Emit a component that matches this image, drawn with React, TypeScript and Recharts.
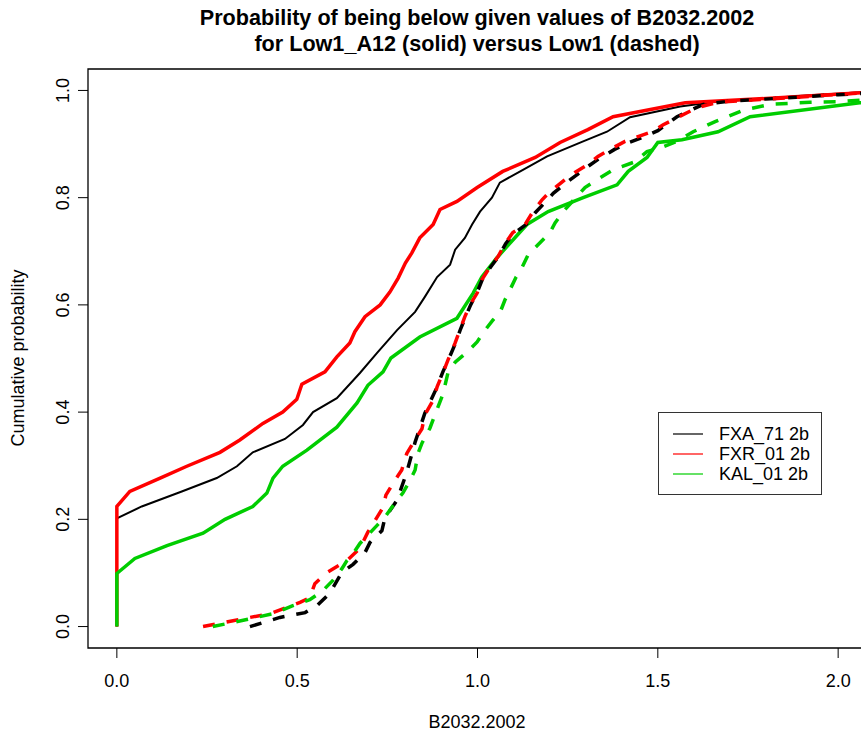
import React from "react";
import { LineChart, Line, XAxis, YAxis, ReferenceArea } from "recharts";

type P = { x: number; y: number };

const xTicks = [0, 0.5, 1.0, 1.5, 2.0];
const yTicks = [0, 0.2, 0.4, 0.6, 0.8, 1.0];

const seriesNames = ["FXA_71 2b", "FXR_01 2b", "KAL_01 2b"];
const seriesColors = ["#000000", "#ff0000", "#00cd00"];

const fxaSolid: P[] = [
  { x: 0, y: 0 }, { x: 0, y: 0.202 }, { x: 0.069, y: 0.224 }, { x: 0.18, y: 0.252 },
  { x: 0.277, y: 0.277 }, { x: 0.333, y: 0.299 }, { x: 0.377, y: 0.325 }, { x: 0.466, y: 0.35 },
  { x: 0.516, y: 0.376 }, { x: 0.544, y: 0.4 }, { x: 0.61, y: 0.426 }, { x: 0.674, y: 0.473 },
  { x: 0.721, y: 0.51 }, { x: 0.777, y: 0.553 }, { x: 0.827, y: 0.587 }, { x: 0.854, y: 0.615 },
  { x: 0.888, y: 0.652 }, { x: 0.924, y: 0.675 }, { x: 0.938, y: 0.703 }, { x: 0.965, y: 0.725 },
  { x: 0.985, y: 0.75 }, { x: 1.007, y: 0.774 }, { x: 1.04, y: 0.8 }, { x: 1.062, y: 0.828 },
  { x: 1.126, y: 0.852 }, { x: 1.193, y: 0.877 }, { x: 1.293, y: 0.905 }, { x: 1.359, y: 0.923 },
  { x: 1.423, y: 0.95 }, { x: 1.562, y: 0.97 }, { x: 1.65, y: 0.978 }, { x: 1.9, y: 0.99 },
  { x: 2.1, y: 0.998 },
];

const fxrSolid: P[] = [
  { x: 0, y: 0 }, { x: 0, y: 0.224 }, { x: 0.036, y: 0.252 }, { x: 0.12, y: 0.277 },
  { x: 0.194, y: 0.299 }, { x: 0.286, y: 0.325 }, { x: 0.341, y: 0.348 }, { x: 0.405, y: 0.379 },
  { x: 0.46, y: 0.4 }, { x: 0.499, y: 0.424 }, { x: 0.513, y: 0.452 }, { x: 0.577, y: 0.475 },
  { x: 0.61, y: 0.503 }, { x: 0.646, y: 0.529 }, { x: 0.66, y: 0.55 }, { x: 0.688, y: 0.578 },
  { x: 0.73, y: 0.6 }, { x: 0.757, y: 0.624 }, { x: 0.78, y: 0.65 }, { x: 0.8, y: 0.678 },
  { x: 0.818, y: 0.697 }, { x: 0.84, y: 0.725 }, { x: 0.877, y: 0.75 }, { x: 0.896, y: 0.778 },
  { x: 0.943, y: 0.793 }, { x: 0.999, y: 0.819 }, { x: 1.07, y: 0.849 }, { x: 1.16, y: 0.875 },
  { x: 1.229, y: 0.903 }, { x: 1.306, y: 0.927 }, { x: 1.376, y: 0.951 }, { x: 1.576, y: 0.977 },
  { x: 1.8, y: 0.985 }, { x: 2.1, y: 0.997 },
];

const kalSolid: P[] = [
  { x: 0, y: 0 }, { x: 0, y: 0.099 }, { x: 0.05, y: 0.127 }, { x: 0.139, y: 0.151 },
  { x: 0.239, y: 0.174 }, { x: 0.3, y: 0.2 }, { x: 0.377, y: 0.224 }, { x: 0.416, y: 0.249 },
  { x: 0.433, y: 0.277 }, { x: 0.46, y: 0.299 }, { x: 0.527, y: 0.329 }, { x: 0.61, y: 0.372 },
  { x: 0.666, y: 0.417 }, { x: 0.696, y: 0.45 }, { x: 0.738, y: 0.475 }, { x: 0.76, y: 0.501 },
  { x: 0.84, y: 0.54 }, { x: 0.943, y: 0.575 }, { x: 0.988, y: 0.622 }, { x: 1.012, y: 0.652 },
  { x: 1.054, y: 0.688 }, { x: 1.137, y: 0.75 }, { x: 1.196, y: 0.774 }, { x: 1.293, y: 0.8 },
  { x: 1.387, y: 0.824 }, { x: 1.418, y: 0.849 }, { x: 1.47, y: 0.875 }, { x: 1.5, y: 0.903 },
  { x: 1.567, y: 0.908 }, { x: 1.667, y: 0.923 }, { x: 1.756, y: 0.951 }, { x: 2.06, y: 0.977 },
  { x: 2.1, y: 0.98 },
];

const fxaDashed: P[] = [
  { x: 0.369, y: 0 }, { x: 0.452, y: 0.017 }, { x: 0.522, y: 0.026 }, { x: 0.555, y: 0.039 },
  { x: 0.59, y: 0.062 }, { x: 0.624, y: 0.101 }, { x: 0.655, y: 0.116 }, { x: 0.688, y: 0.138 },
  { x: 0.702, y: 0.157 }, { x: 0.735, y: 0.179 }, { x: 0.743, y: 0.202 }, { x: 0.777, y: 0.236 },
  { x: 0.804, y: 0.288 }, { x: 0.827, y: 0.344 }, { x: 0.854, y: 0.398 }, { x: 0.888, y: 0.447 },
  { x: 0.904, y: 0.475 }, { x: 0.92, y: 0.499 }, { x: 0.94, y: 0.53 }, { x: 0.953, y: 0.555 },
  { x: 0.967, y: 0.578 }, { x: 0.981, y: 0.6 }, { x: 1.0, y: 0.625 }, { x: 1.015, y: 0.65 },
  { x: 1.038, y: 0.672 }, { x: 1.06, y: 0.692 }, { x: 1.078, y: 0.714 }, { x: 1.1, y: 0.733 },
  { x: 1.135, y: 0.75 }, { x: 1.16, y: 0.772 }, { x: 1.19, y: 0.793 }, { x: 1.21, y: 0.808 },
  { x: 1.25, y: 0.83 }, { x: 1.28, y: 0.845 }, { x: 1.31, y: 0.86 }, { x: 1.34, y: 0.874 },
  { x: 1.38, y: 0.89 }, { x: 1.42, y: 0.903 }, { x: 1.46, y: 0.913 }, { x: 1.5, y: 0.925 },
  { x: 1.553, y: 0.951 }, { x: 1.626, y: 0.974 }, { x: 1.7, y: 0.98 }, { x: 1.85, y: 0.986 },
  { x: 2.0, y: 0.992 }, { x: 2.1, y: 0.996 },
];

const fxrDashed: P[] = [
  { x: 0.239, y: 0 }, { x: 0.322, y: 0.011 }, { x: 0.424, y: 0.024 }, { x: 0.508, y: 0.045 },
  { x: 0.535, y: 0.054 }, { x: 0.549, y: 0.08 }, { x: 0.583, y: 0.101 }, { x: 0.638, y: 0.123 },
  { x: 0.674, y: 0.146 }, { x: 0.696, y: 0.176 }, { x: 0.738, y: 0.222 }, { x: 0.746, y: 0.245 },
  { x: 0.771, y: 0.273 }, { x: 0.79, y: 0.292 }, { x: 0.804, y: 0.323 }, { x: 0.821, y: 0.342 },
  { x: 0.846, y: 0.369 }, { x: 0.854, y: 0.395 }, { x: 0.877, y: 0.422 }, { x: 0.888, y: 0.447 },
  { x: 0.904, y: 0.473 }, { x: 0.918, y: 0.497 }, { x: 0.938, y: 0.529 }, { x: 0.951, y: 0.553 },
  { x: 0.965, y: 0.578 }, { x: 0.979, y: 0.6 }, { x: 0.999, y: 0.622 }, { x: 1.012, y: 0.647 },
  { x: 1.035, y: 0.671 }, { x: 1.057, y: 0.69 }, { x: 1.076, y: 0.714 }, { x: 1.098, y: 0.735 },
  { x: 1.132, y: 0.75 }, { x: 1.154, y: 0.774 }, { x: 1.179, y: 0.796 }, { x: 1.201, y: 0.811 },
  { x: 1.243, y: 0.834 }, { x: 1.27, y: 0.847 }, { x: 1.306, y: 0.862 }, { x: 1.334, y: 0.877 },
  { x: 1.376, y: 0.893 }, { x: 1.409, y: 0.905 }, { x: 1.445, y: 0.914 }, { x: 1.484, y: 0.923 },
  { x: 1.515, y: 0.936 }, { x: 1.553, y: 0.949 }, { x: 1.609, y: 0.968 }, { x: 1.667, y: 0.978 },
  { x: 1.784, y: 0.983 }, { x: 1.922, y: 0.989 }, { x: 2.1, y: 0.997 },
];

const kalDashed: P[] = [
  { x: 0.266, y: 0 }, { x: 0.36, y: 0.013 }, { x: 0.433, y: 0.024 }, { x: 0.488, y: 0.039 },
  { x: 0.535, y: 0.05 }, { x: 0.571, y: 0.067 }, { x: 0.599, y: 0.086 }, { x: 0.624, y: 0.108 },
  { x: 0.638, y: 0.123 }, { x: 0.655, y: 0.136 }, { x: 0.674, y: 0.155 }, { x: 0.743, y: 0.204 },
  { x: 0.777, y: 0.236 }, { x: 0.793, y: 0.249 }, { x: 0.813, y: 0.273 }, { x: 0.827, y: 0.292 },
  { x: 0.835, y: 0.323 }, { x: 0.846, y: 0.342 }, { x: 0.868, y: 0.37 }, { x: 0.882, y: 0.395 },
  { x: 0.904, y: 0.433 }, { x: 0.918, y: 0.473 }, { x: 0.938, y: 0.493 }, { x: 0.971, y: 0.512 },
  { x: 0.999, y: 0.531 }, { x: 1.021, y: 0.553 }, { x: 1.043, y: 0.572 }, { x: 1.062, y: 0.585 },
  { x: 1.076, y: 0.609 }, { x: 1.09, y: 0.628 }, { x: 1.107, y: 0.652 }, { x: 1.123, y: 0.669 },
  { x: 1.14, y: 0.693 }, { x: 1.16, y: 0.707 }, { x: 1.201, y: 0.735 }, { x: 1.215, y: 0.753 },
  { x: 1.243, y: 0.778 }, { x: 1.298, y: 0.819 }, { x: 1.34, y: 0.837 }, { x: 1.376, y: 0.852 },
  { x: 1.437, y: 0.867 }, { x: 1.47, y: 0.886 }, { x: 1.515, y: 0.895 }, { x: 1.553, y: 0.905 },
  { x: 1.598, y: 0.923 }, { x: 1.659, y: 0.942 }, { x: 1.736, y: 0.963 }, { x: 1.811, y: 0.974 },
  { x: 1.922, y: 0.978 }, { x: 2.005, y: 0.979 }, { x: 2.1, y: 0.984 },
];

const titleLines = [
  "Probability of being below given values of B2032.2002",
  "for Low1_A12 (solid) versus Low1 (dashed)",
];
const xLabel = "B2032.2002";
const yLabel = "Cumulative probability";

const FONT = "'Liberation Sans', Arial, Helvetica, sans-serif";

const XTick = (props: any) => {
  const { x, payload } = props;
  return (
    <text x={x} y={681} textAnchor="middle" dominantBaseline="central" fontSize={18} fontFamily={FONT} fill="#000">
      {Number(payload.value).toFixed(1)}
    </text>
  );
};

const YTick = (props: any) => {
  const { y, payload } = props;
  return (
    <text
      x={63}
      y={y}
      textAnchor="middle"
      dominantBaseline="central"
      fontSize={18}
      fontFamily={FONT}
      fill="#000"
      transform={`rotate(-90, 63, ${y})`}
    >
      {Number(payload.value).toFixed(1)}
    </text>
  );
};

export default function App() {
  const solid = [fxaSolid, fxrSolid, kalSolid];
  const dashed = [fxaDashed, fxrDashed, kalDashed];
  return (
    <div style={{ position: "absolute", left: 0, top: 0, width: 861, height: 737, overflow: "hidden", background: "#fff" }}>
      <LineChart width={900} height={737} margin={{ top: 69, right: 33, bottom: 29, left: 0 }}>
        <XAxis
          type="number"
          dataKey="x"
          domain={[-0.08, 2.08]}
          allowDataOverflow
          ticks={xTicks}
          tick={<XTick />}
          tickSize={10}
          tickLine={{ stroke: "#000", strokeWidth: 1 }}
          axisLine={false}
          height={60}
          interval={0}
        />
        <YAxis
          type="number"
          dataKey="y"
          domain={[-0.04, 1.04]}
          allowDataOverflow
          ticks={yTicks}
          tick={<YTick />}
          tickSize={10}
          tickLine={{ stroke: "#000", strokeWidth: 1 }}
          axisLine={false}
          width={88}
          interval={0}
        />
        <ReferenceArea x1={-0.08} x2={2.08} y1={-0.04} y2={1.04} fill="none" fillOpacity={0} stroke="#000" strokeWidth={1.3} ifOverflow="visible" />
        {solid.map((d, i) => (
          <Line
            key={"s" + i}
            data={d}
            dataKey="y"
            type="linear"
            stroke={seriesColors[i]}
            strokeWidth={i === 0 ? 2 : 3.5}
            dot={false}
            activeDot={false}
            isAnimationActive={false}
            name={seriesNames[i]}
          />
        ))}
        {dashed.map((d, i) => (
          <Line
            key={"d" + i}
            data={d}
            dataKey="y"
            type="linear"
            stroke={seriesColors[i]}
            strokeWidth={3.5}
            strokeDasharray="12 12"
            dot={false}
            activeDot={false}
            isAnimationActive={false}
            name={seriesNames[i] + " dashed"}
          />
        ))}
      </LineChart>
      <svg width={861} height={737} style={{ position: "absolute", left: 0, top: 0, pointerEvents: "none" }}>
        <text x={477} y={25} textAnchor="middle" fontSize={21.6} fontWeight="bold" fontFamily={FONT}>{titleLines[0]}</text>
        <text x={477} y={51} textAnchor="middle" fontSize={21.6} fontWeight="bold" fontFamily={FONT}>{titleLines[1]}</text>
        <text x={477} y={722} textAnchor="middle" dominantBaseline="central" fontSize={18} fontFamily={FONT}>{xLabel}</text>
        <text x={18} y={358} textAnchor="middle" dominantBaseline="central" fontSize={18} fontFamily={FONT} transform="rotate(-90, 18, 358)">{yLabel}</text>
        <rect x={658.5} y={412.5} width={163} height={82} fill="#fff" stroke="#333" strokeWidth={1} />
        {seriesNames.map((n, i) => (
          <g key={n}>
            <line x1={673} x2={703} y1={434 + i * 20} y2={434 + i * 20} stroke={seriesColors[i]} strokeWidth={1.2} />
            <text x={719} y={434 + i * 20} dominantBaseline="central" fontSize={18} fontFamily={FONT}>{n}</text>
          </g>
        ))}
      </svg>
    </div>
  );
}
